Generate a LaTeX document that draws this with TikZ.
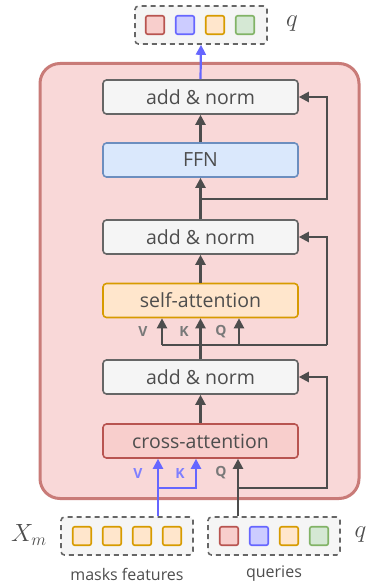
\documentclass[tikz,border=0pt]{standalone}
\usepackage{fontspec}
\setmainfont{Open Sans}
\usetikzlibrary{arrows.meta}
\definecolor{txt}{HTML}{4D4D4D}
\definecolor{wire}{HTML}{4D4D4D}
\definecolor{bluewire}{HTML}{6666FF}
\definecolor{layerfill}{HTML}{F9D8D8}
\definecolor{layerdraw}{HTML}{C97B78}
\tikzset{
  blk/.style={draw, line width=1.6pt, rounded corners=3.5pt, minimum width=195pt,
    minimum height=34pt, inner sep=0pt, font=\fontsize{19.5}{19.5}\selectfont, text=txt},
  graybox/.style={blk, fill=gray!8, draw=gray!120},
  ffnbox/.style={blk, fill={rgb,255:red,218;green,232;blue,252}, draw={rgb,255:red,108;green,142;blue,191}},
  sabox/.style={blk, fill={rgb,255:red,255;green,230;blue,204}, draw={rgb,255:red,215;green,155;blue,0}},
  cabox/.style={blk, fill={rgb,255:red,248;green,206;blue,204}, draw={rgb,255:red,184;green,84;blue,80}},
  groupbox/.style={draw=gray!120, fill=gray!8, dashed, dash pattern=on 5pt off 4pt,
    line width=1.6pt, rounded corners=3.5pt, minimum width=132pt, minimum height=38pt, inner sep=0pt},
  sq/.style={draw, line width=1.6pt, rounded corners=2pt, minimum size=18.5pt, inner sep=0pt},
  sqr/.style={sq, fill={rgb,255:red,248;green,206;blue,204}, draw={rgb,255:red,184;green,84;blue,80}},
  sqb/.style={sq, fill={rgb,255:red,204;green,204;blue,255}, draw={rgb,255:red,102;green,102;blue,255}},
  sqo/.style={sq, fill={rgb,255:red,255;green,230;blue,204}, draw={rgb,255:red,215;green,155;blue,0}},
  sqg/.style={sq, fill={rgb,255:red,213;green,232;blue,212}, draw={rgb,255:red,130;green,179;blue,102}},
  conn/.style={draw=wire, line width=2.2pt, -{Triangle[length=10pt,width=10pt]}},
  bconn/.style={conn, draw=bluewire},
  plain/.style={draw=wire, line width=2.2pt},
  tag/.style={font=\bfseries\fontsize{14}{14}\selectfont, text=gray!105, inner sep=0pt},
  btag/.style={tag, text={rgb,255:red,127;green,127;blue,255}},
  captxt/.style={font=\fontsize{16}{16}\selectfont, text=txt, inner sep=0pt},
  mathlbl/.style={font=\fontsize{24}{24}\selectfont, text=txt, inner sep=0pt},
}
\begin{document}
\begin{tikzpicture}[x=1pt,y=-1pt]
\useasboundingbox (0,0) rectangle (368,585);

% decoder layer container
\node[draw=layerdraw, fill=layerfill, line width=3pt, rounded corners=20pt,
  minimum width=319pt, minimum height=435pt] (layer) at (199.5,281) {};

% blocks of the layer
\node[graybox] (an1) at (200.5,97) {add \& norm};
\node[ffnbox]  (ffn) at (200.5,160) {FFN};
\node[graybox] (an2) at (200.5,237) {add \& norm};
\node[sabox]   (sa)  at (200.5,300.5) {self-attention};
\node[graybox] (an3) at (200.5,377) {add \& norm};
\node[cabox]   (ca)  at (200.5,441) {cross-attention};

% output queries
\node[groupbox] (out) at (201,25) {};
\node[sqr] (o1) at (155,25) {};
\node[sqb] (o2) at (185,25) {};
\node[sqo] (o3) at (215,25) {};
\node[sqg] (o4) at (245,25) {};
\node[mathlbl] (qout) at (292,24) {$q$};

% mask features
\node[groupbox] (mf) at (127,536) {};
\node[sqo] (m1) at (82,536) {};
\node[sqo] (m2) at (112,536) {};
\node[sqo] (m3) at (142,536) {};
\node[sqo] (m4) at (172,536) {};
\node[mathlbl] (xm) at (29,535) {$X_m$};
\node[captxt] (mfcap) at (127,574) {masks features};

% input queries
\node[groupbox] (qin) at (274,536) {};
\node[sqr] (q1) at (229,536) {};
\node[sqb] (q2) at (259,536) {};
\node[sqo] (q3) at (289,536) {};
\node[sqg] (q4) at (319,536) {};
\node[mathlbl] (qlbl) at (360.5,535) {$q$};
\node[captxt] (qcap) at (274,574) {queries};

% routing points
\coordinate (rx) at (327,0);
\coordinate (bsplit) at ([xshift=31pt]mf.north |- 0,488);
\coordinate (qsplit) at ([xshift=-36pt]qin.north |- 0,488);
\coordinate (ssplit) at (an3.north |- 0,345);
\coordinate (fsplit) at (an2.north |- 0,199);

% cross-attention inputs
\draw[bconn] ([xshift=31pt]mf.north) -- ([xshift=-42.5pt]ca.south);
\draw[bconn] (bsplit) -| ([xshift=-4.5pt]ca.south);
\draw[conn] ([xshift=-36pt]qin.north) -- ([xshift=37.5pt]ca.south);
\draw[conn] (qsplit) -| (rx |- an3.east) -- (an3.east);
\node[btag] (cv) at (138,473) {V};
\node[btag] (ck) at (180,473) {K};
\node[tag]  (cq) at (221,473) {Q};

% cross-attention to add & norm
\draw[conn] (ca.north) -- (an3.south);

% self-attention inputs
\draw[conn] (an3.north) -- (sa.south);
\draw[conn] ([xshift=-38.5pt]sa.south |- ssplit) -- ([xshift=-38.5pt]sa.south);
\draw[plain] ([xshift=-38.5pt]sa.south |- ssplit) -- (rx |- ssplit);
\draw[conn] ([xshift=38.5pt]sa.south |- ssplit) -- ([xshift=38.5pt]sa.south);
\draw[conn] (rx |- ssplit) -- (rx |- an2.east) -- (an2.east);
\node[tag] (sv) at (143,332) {V};
\node[tag] (sk) at (184,332) {K};
\node[tag] (sq) at (221,332) {Q};

\draw[conn] (sa.north) -- (an2.south);

% feed-forward
\draw[conn] (an2.north) -- (ffn.south);
\draw[conn] (fsplit) -- (rx |- fsplit) -- (rx |- an1.east) -- (an1.east);
\draw[conn] (ffn.north) -- (an1.south);

% layer output
\draw[bconn] (an1.north) -- (out.south);
\end{tikzpicture}
\end{document}
